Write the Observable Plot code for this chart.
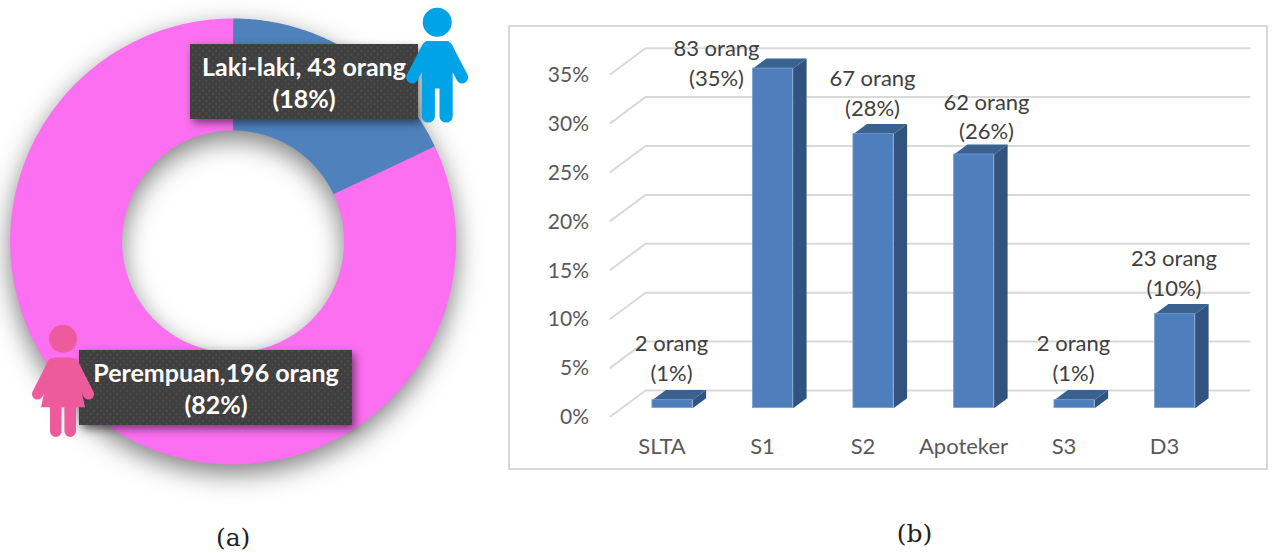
<!DOCTYPE html>
<html>
<head>
<meta charset="utf-8">
<script src="https://cdn.jsdelivr.net/npm/d3@7"></script>
<script src="https://cdn.jsdelivr.net/npm/@observablehq/plot@0.6"></script>
<style>
  html, body { margin: 0; padding: 0; background: #fff; overflow: hidden; }
  #page { display: flex; width: 1272px; height: 553px; }
  #page svg { display: block; flex: none; background: transparent; overflow: visible; }
  #left { position: relative; z-index: 1; }
</style>
</head>
<body>
<div id="page"><div id="left"></div><div id="right"></div></div>
<script>
// ---------- data ----------
const genders = ["Laki-laki", "Perempuan"];
const genderCounts = [43, 196];
const genderColors = ["#4f81bd", "#fb6ff0"];
const genderLabels = ["Laki-laki, 43 orang\n(18%)", "Perempuan,196 orang\n(82%)"];

const educations = ["SLTA", "S1", "S2", "Apoteker", "S3", "D3"];
const educationCounts = [2, 83, 67, 62, 2, 23];
const educationLabels = ["2 orang\n(1%)", "83 orang\n(35%)", "67 orang\n(28%)", "62 orang\n(26%)", "2 orang\n(1%)", "23 orang\n(10%)"];
const percentTicks = [0, 5, 10, 15, 20, 25, 30, 35];

// ---------- layout (not data) ----------
const H = 553, leftW = 490, rightW = 782;
const cx = 232.6, cy = 241, rOuter = 223, rInner = 111;
const stepX = 100.5, pctY = 9.78, x0px = 672, y0px = 407.7;
const X = px => (px - x0px) / stepX;
const Y = py => (y0px - py) / pctY;
const barW = 0.4, depthX = 13.5 / stepX, depthY = 10 / pctY;
const labelNudgeX = [-1, -56.5, -1, 12.5, -1, -1].map(d => d / stepX);
const labelLift = [4.45, 0.75, 4.35, 4.05, 4.45, 4.35];
const LABEL = "#404040", AXIS = "#595959", GRID = "#d9d9d9";
const SANS = "Lato, Carlito, sans-serif";

// ---------- pictogram symbols ----------
function capsule(c, ax, ay, bx, by, r) {
  const a = Math.atan2(by - ay, bx - ax), q = Math.PI / 2;
  c.moveTo(ax + r * Math.cos(a - q), ay + r * Math.sin(a - q));
  c.lineTo(bx + r * Math.cos(a - q), by + r * Math.sin(a - q));
  c.arc(bx, by, r, a - q, a + q);
  c.lineTo(ax + r * Math.cos(a + q), ay + r * Math.sin(a + q));
  c.arc(ax, ay, r, a + q, a + 3 * q);
  c.closePath();
}
function poly(c, pts) {
  pts.forEach(([x, y], i) => i ? c.lineTo(x, y) : c.moveTo(x, y));
  c.closePath();
}
const manSymbol = { draw(c) {
  c.moveTo(14.5, -43.3); c.arc(0, -43.3, 14.5, 0, 2 * Math.PI); c.closePath();
  capsule(c, -9.5, -18, -25, 12, 6);
  capsule(c, 9.5, -18, 25, 12, 6);
  poly(c, [[-11, -24.5], [11, -24.5], [15.5, -20], [15.5, 23], [-15.5, 23], [-15.5, -20]]);
  capsule(c, -8.9, 15, -8.9, 50.5, 6.6);
  capsule(c, 8.9, 15, 8.9, 50.5, 6.6);
} };
const womanSymbol = { draw(c) {
  c.moveTo(14, -48.7); c.arc(0, -48.7, 14, 0, 2 * Math.PI); c.closePath();
  capsule(c, -10, -24, -25.5, 6.5, 5.5);
  capsule(c, 10, -24, 25.5, 6.5, 5.5);
  poly(c, [[-8, -30], [8, -30], [12, -27], [22, 19.7], [-22, 19.7], [-12, -27]]);
  capsule(c, -7.2, 15, -7.2, 43.7, 5.8);
  capsule(c, 7.2, 15, 7.2, 43.7, 5.8);
} };

// ---------- panel (a): donut ----------
const total = d3.sum(genderCounts);
let cumulative = 0;
const sliceRows = [];
genders.forEach((g, i) => {
  const a0 = cumulative / total * 2 * Math.PI;
  cumulative += genderCounts[i];
  const a1 = cumulative / total * 2 * Math.PI;
  const n = Math.ceil((a1 - a0) / 0.01);
  const angles = d3.range(n + 1).map(k => a0 + (a1 - a0) * k / n);
  for (const a of angles) sliceRows.push({ g, x: cx + rOuter * Math.sin(a), y: cy - rOuter * Math.cos(a) });
  for (const a of angles.slice().reverse()) sliceRows.push({ g, x: cx + rInner * Math.sin(a), y: cy - rInner * Math.cos(a) });
});
const boxes = [
  { x1: 190, x2: 418, y1: 44, y2: 119, tx: 303.5, ty: 81.5, label: genderLabels[0] },
  { x1: 79, x2: 352, y1: 350, y2: 425, tx: 215.5, ty: 387.5, label: genderLabels[1] }
];

const dotsDefs = () => {
  const defs = d3.create("svg:defs");
  const p = defs.append("pattern").attr("id", "dots").attr("patternUnits", "userSpaceOnUse")
    .attr("width", 6.6).attr("height", 6.6);
  p.append("rect").attr("width", 6.6).attr("height", 6.6).attr("fill", "#3f3f3f");
  p.append("circle").attr("cx", 1.6).attr("cy", 1.6).attr("r", 0.8).attr("fill", "#565656");
  p.append("circle").attr("cx", 4.9).attr("cy", 4.9).attr("r", 0.8).attr("fill", "#565656");
  return defs.node();
};

const leftChart = Plot.plot({
  width: leftW, height: H, margin: 0,
  style: { background: "transparent" },
  x: { domain: [0, leftW], range: [0, leftW], axis: null },
  y: { domain: [0, H], range: [0, H], axis: null },
  color: { domain: genders, range: genderColors },
  marks: [
    dotsDefs,
    Plot.line(sliceRows, { x: "x", y: "y", z: "g", fill: "g", stroke: "none",
      imageFilter: "drop-shadow(0px 9px 13px rgba(0,0,0,0.5))" }),
    Plot.rect(boxes, { x1: "x1", x2: "x2", y1: "y1", y2: "y2", fill: "url(#dots)",
      imageFilter: "drop-shadow(3px 4px 4px rgba(0,0,0,0.5))" }),
    Plot.text(boxes, { x: "tx", y: "ty", text: "label", fill: "#fff", fontFamily: SANS,
      fontWeight: 700, fontSize: 25, lineHeight: 1.28, lineAnchor: "middle" }),
    Plot.dot([{ x: 436.7, y: 65 }], { x: "x", y: "y", r: 10, symbol: manSymbol, fill: "#00a3e6", stroke: "none" }),
    Plot.dot([{ x: 62.5, y: 387 }], { x: "x", y: "y", r: 10, symbol: womanSymbol, fill: "#ee5b9d", stroke: "none" }),
    Plot.text(["(a)"], { x: () => cx, y: () => 537, text: d => d, fill: "#222",
      fontFamily: "'DejaVu Serif', serif", fontSize: 25, lineAnchor: "middle" })
  ]
});

// ---------- panel (b): 3-D bars ----------
const bars = educations.map((name, i) => ({
  name, i, pct: educationCounts[i] / d3.sum(educationCounts) * 100, label: educationLabels[i]
}));
const sideRows = bars.flatMap(b => {
  const r = b.i + barW / 2;
  return [[r, 0], [r + depthX, depthY], [r + depthX, b.pct + depthY], [r, b.pct]].map(([x, y]) => ({ k: b.name, x, y }));
});
const topRows = bars.flatMap(b => {
  const l = b.i - barW / 2, r = b.i + barW / 2;
  return [[l, b.pct], [r, b.pct], [r + depthX, b.pct + depthY], [l + depthX, b.pct + depthY]].map(([x, y]) => ({ k: b.name, x, y }));
});
const gridBackX = X(645), gridFrontX = X(610), gridEndX = X(1249);
const gridBackShift = Y(390), gridFrontShift = Y(416);
const gridRows = percentTicks.flatMap(t => [
  { t, x: gridFrontX, y: t + gridFrontShift },
  { t, x: gridBackX, y: t + gridBackShift },
  { t, x: gridEndX, y: t + gridBackShift }
]);

const rightChart = Plot.plot({
  width: rightW, height: H, margin: 0,
  style: { background: "transparent" },
  x: { domain: [X(490), X(490 + rightW)], range: [0, rightW], axis: null },
  y: { domain: [Y(H), Y(0)], range: [H, 0], axis: null },
  marks: [
    Plot.rect([0], { x1: () => X(509), x2: () => X(1267), y1: () => Y(26), y2: () => Y(469),
      fill: "#fff", stroke: GRID, strokeWidth: 2 }),
    Plot.line(gridRows, { x: "x", y: "y", z: "t", stroke: GRID, strokeWidth: 2 }),
    Plot.line(sideRows, { x: "x", y: "y", z: "k", fill: "#32537e", stroke: "none" }),
    Plot.line(topRows, { x: "x", y: "y", z: "k", fill: "#3a6290", stroke: "none" }),
    Plot.rect(bars, { x1: d => d.i - barW / 2, x2: d => d.i + barW / 2, y1: () => 0, y2: "pct",
      fill: "#4e7fbc", stroke: "#7fa3d0", strokeWidth: 0.7 }),
    Plot.text(percentTicks, { x: () => X(588.5), y: d => d + Y(417), text: d => d + "%",
      textAnchor: "end", fill: AXIS, fontFamily: SANS, fontSize: 21 }),
    Plot.text(bars, { x: d => d.i + X(661.5), y: () => Y(446.7), text: "name",
      fill: AXIS, fontFamily: SANS, fontSize: 22 }),
    Plot.text(bars, { x: d => d.i + labelNudgeX[d.i], y: d => d.pct + labelLift[d.i], text: "label",
      fill: LABEL, fontFamily: SANS, fontSize: 22, lineHeight: 1.36, lineAnchor: "middle" }),
    Plot.text(["(b)"], { x: () => X(914), y: () => Y(533), text: d => d, fill: "#222",
      fontFamily: "'DejaVu Serif', serif", fontSize: 25, lineAnchor: "middle" })
  ]
});

document.getElementById("left").append(leftChart);
document.getElementById("right").append(rightChart);
</script>
</body>
</html>
